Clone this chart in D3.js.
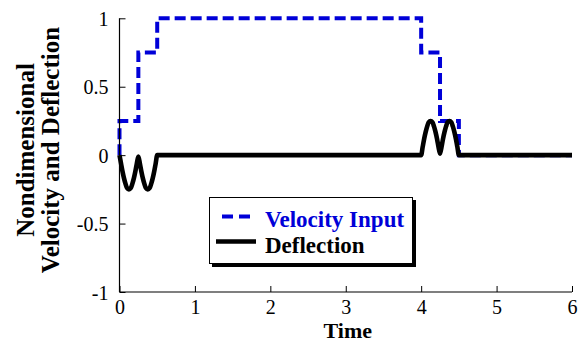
<!DOCTYPE html>
<html>
<head>
<meta charset="utf-8">
<script src="https://cdn.jsdelivr.net/npm/d3@7/dist/d3.min.js"></script>
<style>
  html, body { margin: 0; padding: 0; background: #fff; }
  svg, svg text { font-family: "Liberation Serif", "Times New Roman", serif; }
</style>
</head>
<body>
<svg id="chart" width="579" height="341"></svg>
<script>
// ---- data ----
const xTicks = [0, 1, 2, 3, 4, 5, 6];
const yTicks = [-1, -0.5, 0, 0.5, 1];
const yTickLabels = ["-1", "-0.5", "0", "0.5", "1"];

// Velocity input (step after each time)
const velTime  = [0, 0,    0.25, 0.5, 4,    4.25, 4.5, 6];
const velValue = [0, 0.25, 0.75, 1,   0.75, 0.25, 0,   0];

// Deflection
const defTime  = [0, 0.02, 0.04, 0.06, 0.08, 0.10, 0.125, 0.15, 0.17, 0.19, 0.21, 0.23, 0.25,
                  0.27, 0.29, 0.31, 0.33, 0.35, 0.375, 0.40, 0.42, 0.44, 0.46, 0.48, 0.5,
                  4.0, 4.02, 4.04, 4.06, 4.08, 4.10, 4.125, 4.15, 4.17, 4.19, 4.21, 4.23, 4.25,
                  4.27, 4.29, 4.31, 4.33, 4.35, 4.375, 4.40, 4.42, 4.44, 4.46, 4.48, 4.5, 6];
const defValue = [0, -0.06, -0.12, -0.17, -0.21, -0.24, -0.25, -0.24, -0.21, -0.17, -0.12, -0.06, -0.01,
                  -0.06, -0.12, -0.17, -0.21, -0.24, -0.25, -0.24, -0.21, -0.17, -0.12, -0.06, 0,
                  0, 0.06, 0.12, 0.17, 0.21, 0.24, 0.25, 0.24, 0.21, 0.17, 0.12, 0.06, 0.01,
                  0.06, 0.12, 0.17, 0.21, 0.24, 0.25, 0.24, 0.21, 0.17, 0.12, 0.06, 0, 0];

const seriesNames = ["Velocity Input", "Deflection"];
const xLabel = "Time";
const yLabelLines = ["Nondimensional", "Velocity and Deflection"];

// ---- layout ----
const FONT = '"Liberation Serif", "Times New Roman", serif';
const svg = d3.select("#chart");
const mLeft = 119.5, mRight = 572, mTop = 18.3, mBottom = 292;
const x = d3.scaleLinear().domain([0, 6]).range([mLeft, mRight]);
const y = d3.scaleLinear().domain([-1, 1]).range([mBottom, mTop]);
const blue = "#0000d8";

// Lines
const velData = velTime.map((t, i) => [t, velValue[i]]);
const defData = defTime.map((t, i) => [t, defValue[i]]);

svg.append("path")
  .attr("d", d3.line().x(d => x(d[0])).y(d => y(d[1])).curve(d3.curveStepAfter)(velData))
  .attr("fill", "none").attr("stroke", blue).attr("stroke-width", 4)
  .attr("stroke-dasharray", "11,5");

svg.append("path")
  .attr("d", d3.line().x(d => x(d[0])).y(d => y(d[1])).curve(d3.curveMonotoneX)(defData))
  .attr("fill", "none").attr("stroke", "#000").attr("stroke-width", 4.6)
  .attr("stroke-linejoin", "round");

// Axes
const xAxis = d3.axisBottom(x).tickValues(xTicks).tickSize(-6).tickPadding(8).tickFormat(d3.format("d"));
const yAxis = d3.axisLeft(y).tickValues(yTicks).tickSize(-6).tickPadding(11)
  .tickFormat((d, i) => yTickLabels[i]);

const gx = svg.append("g").attr("transform", `translate(0,${mBottom})`).call(xAxis);
const gy = svg.append("g").attr("transform", `translate(${mLeft},0)`).call(yAxis);
gx.select(".domain").attr("d", `M${mLeft},0H${mRight}`);
gy.select(".domain").attr("d", `M0,${mTop}V${mBottom}`);
[gx, gy].forEach(g => {
  g.attr("font-family", FONT).attr("font-size", 20);
  g.select(".domain").attr("stroke", "#000").attr("stroke-width", 1.2);
  g.selectAll(".tick line").attr("stroke", "#000").attr("stroke-width", 1);
  g.selectAll(".tick text").attr("fill", "#000");
});
gx.selectAll(".tick text").attr("dy", "0.71em");
gy.selectAll(".tick text").attr("dy", "0.36em");

// Axis labels
svg.append("text").attr("x", (mLeft + mRight) / 2 + 2).attr("y", 338)
  .attr("text-anchor", "middle").attr("font-family", FONT)
  .attr("font-weight", "bold").attr("font-size", 22)
  .text(xLabel);

const ylab = svg.append("text")
  .attr("transform", "translate(0,150) rotate(-90)")
  .attr("text-anchor", "middle").attr("font-family", FONT)
  .attr("font-weight", "bold").attr("font-size", 25);
ylab.append("tspan").attr("x", 0).attr("y", 34).text(yLabelLines[0]);
ylab.append("tspan").attr("x", 0).attr("y", 59).text(yLabelLines[1]);

// Legend
const lg = svg.append("g").attr("font-family", FONT);
lg.append("rect").attr("x", 212).attr("y", 200).attr("width", 204).attr("height", 67).attr("fill", "#000");
lg.append("rect").attr("x", 209.5).attr("y", 197.5).attr("width", 203).attr("height", 66)
  .attr("fill", "#fff").attr("stroke", "#000").attr("stroke-width", 1);
lg.append("line").attr("x1", 222).attr("x2", 254).attr("y1", 216.5).attr("y2", 216.5)
  .attr("stroke", blue).attr("stroke-width", 4).attr("stroke-dasharray", "11,6");
lg.append("line").attr("x1", 216).attr("x2", 256).attr("y1", 241.5).attr("y2", 241.5)
  .attr("stroke", "#000").attr("stroke-width", 4.6);
lg.append("text").attr("x", 265).attr("y", 226.5).attr("fill", blue)
  .attr("font-weight", "bold").attr("font-size", 23).text(seriesNames[0]);
lg.append("text").attr("x", 265).attr("y", 252.5).attr("fill", "#000")
  .attr("font-weight", "bold").attr("font-size", 23).text(seriesNames[1]);
</script>
</body>
</html>
